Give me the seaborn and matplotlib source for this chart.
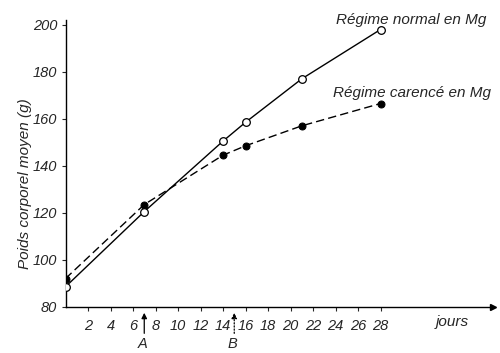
import matplotlib
matplotlib.use("Agg")
import matplotlib.pyplot as plt
import seaborn as sns
import pandas as pd

# Data
jours = [0, 7, 14, 16, 21, 28]
normal = [88.5, 120.5, 150.5, 158.5, 177, 198]
carence = [92, 123.5, 144.5, 148.5, 157, 166.5]
yticks = [80, 100, 120, 140, 160, 180, 200]
xticks = list(range(2, 30, 2))
label_normal = "Régime normal en Mg"
label_carence = "Régime carencé en Mg"

sns.set_style("white")
plt.rcParams['font.family'] = ['Liberation Sans', 'DejaVu Sans']
plt.rcParams['font.style'] = 'italic'

fig = plt.figure(figsize=(5.0, 3.53), dpi=100)
ax = fig.add_axes([0.131, 0.131, 0.855, 0.812])

df_n = pd.DataFrame({"jours": jours, "poids": normal})
df_c = pd.DataFrame({"jours": jours, "poids": carence})

sns.lineplot(data=df_c, x="jours", y="poids", ax=ax, color="black", lw=1.0,
             dashes=False, linestyle=(0, (6, 3)), marker="o", markersize=5,
             markerfacecolor="black", markeredgecolor="black", zorder=2)
sns.lineplot(data=df_n, x="jours", y="poids", ax=ax, color="black", lw=1.0,
             marker="o", markersize=5.5, markerfacecolor="white",
             markeredgecolor="black", markeredgewidth=0.9, zorder=3)

ax.set_xlim(0, 38)
ax.set_ylim(80, 202)
ax.set_xticks(xticks)
ax.set_xticklabels([str(t) for t in xticks])
ax.set_yticks(yticks)
ax.set_yticklabels([str(t) for t in yticks])
ax.set_xlabel("")
ax.set_ylabel("")

for s in ["top", "right"]:
    ax.spines[s].set_visible(False)
for s in ["left", "bottom"]:
    ax.spines[s].set_color("black")
    ax.spines[s].set_linewidth(1.0)

ax.tick_params(axis="x", direction="out", length=3, width=0.8, pad=6,
               labelsize=10.5, bottom=True)
ax.tick_params(axis="y", direction="out", length=3, width=0.8, pad=3,
               labelsize=10.5, left=True)

# arrow head at the end of the x axis
ax.plot([1], [0], marker=">", color="black", markersize=4,
        transform=ax.transAxes, clip_on=False)

ax.text(24.0, 202, label_normal, fontsize=11, ha="left", va="center")
ax.text(23.8, 171, label_carence, fontsize=11, ha="left", va="center")
ax.text(34.4, 73.3, "jours", fontsize=11, ha="center", va="center",
        clip_on=False)

ax.text(-0.095, 0.43, "Poids corporel moyen (g)", transform=ax.transAxes,
        rotation=90, fontsize=11, ha="center", va="center")

# markers A and B under the axis
ax.annotate("", xy=(7, 78.6), xytext=(7, 67.5),
            arrowprops=dict(arrowstyle="-|>", color="black", lw=0.9,
                            mutation_scale=8),
            annotation_clip=False)
ax.text(6.85, 64.2, "A", fontsize=10.5, ha="center", va="center", clip_on=False)
ax.annotate("", xy=(15, 78.6), xytext=(15, 67.5),
            arrowprops=dict(arrowstyle="-|>", color="black", lw=0.9,
                            linestyle=(0, (1, 1.5)), mutation_scale=8),
            annotation_clip=False)
ax.text(14.85, 64.2, "B", fontsize=10.5, ha="center", va="center", clip_on=False)

legend = ax.get_legend()
if legend is not None:
    legend.remove()

fig.savefig("out.png", dpi=100)
